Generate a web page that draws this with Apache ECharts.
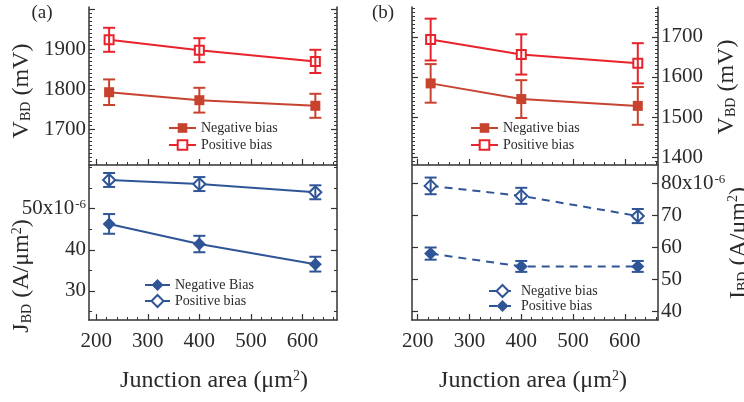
<!DOCTYPE html>
<html>
<head>
<meta charset="utf-8">
<script src="https://cdn.jsdelivr.net/npm/echarts@6/dist/echarts.min.js"></script>
<style>
html, body { margin: 0; padding: 0; background: #fff; }
#chart { width: 744px; height: 402px; }
</style>
</head>
<body>
<div id="chart"></div>
<script>
// junction areas (um^2)
var areas = [225, 400, 625];

// (a) breakdown voltage, mV
var vNegA = [1792, 1772, 1758];
var vNegAErr = [32, 31, 30];
var vPosA = [1923, 1897, 1869];
var vPosAErr = [30, 30, 29];

// (a) breakdown current density, x1e-6 A/um^2
var jNegA = [46.3, 41.4, 36.5];
var jNegAErr = [2.4, 2.0, 1.8];
var jPosA = [57.0, 56.0, 54.0];
var jPosAErr = [1.7, 1.7, 1.7];

// (b) breakdown voltage, mV
var vNegB = [1584, 1545, 1528];
var vNegBErr = [48, 47, 47];
var vPosB = [1693, 1656, 1634];
var vPosBErr = [52, 50, 50];

// (b) breakdown current, x1e-6 A/um^2
var iNegB = [79.2, 76.1, 69.8];
var iNegBErr = [2.6, 2.5, 2.2];
var iPosB = [58.1, 54.1, 54.1];
var iPosBErr = [1.9, 1.7, 1.7];

// tick labels
var xTickLabels = [200, 300, 400, 500, 600];
var vTickLabelsA = [1700, 1800, 1900];
var jTickLabelsA = [30, 40, 50];
var vTickLabelsB = [1400, 1500, 1600, 1700];
var iTickLabelsB = [40, 50, 60, 70, 80];

var redNeg = '#c8432f';
var redPos = '#e8232b';
var blue = '#2f5597';
var axisColor = '#333';
var textColor = '#2a2a2a';
var fam = 'Liberation Serif';

function steps(min, max, step) {
    var out = [];
    for (var v = Math.ceil(min / step) * step; v <= max; v += step) out.push(v);
    return out;
}

var grids = [
    {left: 89, top: 7, width: 248, height: 158},
    {left: 89, top: 166, width: 248, height: 154},
    {left: 412, top: 7, width: 246, height: 158},
    {left: 412, top: 166, width: 246, height: 154}
];
var xRanges = [[186, 667], [186, 667], [189, 664], [189, 664]];
var yRanges = [[1610, 2005], [22.9, 60.4], [1381, 1774], [37.4, 85.4]];
var yLabels = [vTickLabelsA, jTickLabelsA, vTickLabelsB, iTickLabelsB];
var yMajor = [steps(1610, 2005, 100), jTickLabelsA, vTickLabelsB, iTickLabelsB];
var yMinor = [steps(1610, 2005, 10), steps(22.9, 60.4, 5), steps(1381, 1774, 10), []];
var labelSide = ['left', 'left', 'right', 'right'];

var supRich = {
    s: {fontSize: 13, fontFamily: fam, color: textColor, verticalAlign: 'top', lineHeight: 10, padding: [0, 0, 0, 1]}
};

function yFormatter(g) {
    return function (v) {
        if (g === 1 && v === 50) return '50x10{s|-6}';
        if (g === 3 && v === 80) return '80x10{s|-6}';
        return String(v);
    };
}

var xAxes = [], yAxes = [];
var allGrids = grids.concat(grids);
for (var g = 0; g < 4; g++) {
    xAxes.push({
        type: 'value', gridIndex: g, min: xRanges[g][0], max: xRanges[g][1], position: 'bottom',
        axisLine: {show: true, onZero: false, lineStyle: {color: axisColor, width: 1.5}},
        axisTick: {show: true, inside: true, length: 6, customValues: xTickLabels, lineStyle: {color: axisColor, width: 1.2}},
        axisLabel: {show: g % 2 === 1, customValues: xTickLabels, margin: 11, fontFamily: fam, fontSize: 21, color: textColor},
        splitLine: {show: false}
    });
}
for (var g = 0; g < 4; g++) {
    xAxes.push({
        type: 'value', gridIndex: g + 4, min: xRanges[g][0], max: xRanges[g][1], position: 'bottom',
        axisLine: {show: false, onZero: false},
        axisTick: {show: true, inside: true, length: 3, customValues: steps(xRanges[g][0], xRanges[g][1], 20), lineStyle: {color: axisColor, width: 1}},
        axisLabel: {show: false},
        splitLine: {show: false}
    });
}
for (var g = 0; g < 4; g++) {
    ['left', 'right'].forEach(function (side) {
        yAxes.push({
            type: 'value', gridIndex: g, min: yRanges[g][0], max: yRanges[g][1], position: side,
            axisLine: {show: true, onZero: false, lineStyle: {color: axisColor, width: 1.5}},
            axisTick: {show: true, inside: true, length: 6, customValues: yMajor[g], lineStyle: {color: axisColor, width: 1.2}},
            axisLabel: {
                show: side === labelSide[g], customValues: yLabels[g], margin: 3,
                fontFamily: fam, fontSize: 21, color: textColor,
                formatter: yFormatter(g), rich: supRich
            },
            splitLine: {show: false}
        });
    });
}
for (var g = 0; g < 4; g++) {
    ['left', 'right'].forEach(function (side) {
        yAxes.push({
            type: 'value', gridIndex: g + 4, min: yRanges[g][0], max: yRanges[g][1], position: side,
            axisLine: {show: false, onZero: false},
            axisTick: {show: yMinor[g].length > 0, inside: true, length: 3, customValues: yMinor[g], lineStyle: {color: axisColor, width: 1}},
            axisLabel: {show: false},
            splitLine: {show: false}
        });
    });
}

function pts(vals) {
    return areas.map(function (x, i) { return [x, vals[i]]; });
}
function bars(vals, errs) {
    return areas.map(function (x, i) { return [x, vals[i] - errs[i], vals[i] + errs[i]]; });
}
function errRender(color) {
    return function (params, api) {
        var x = api.value(0);
        var top = api.coord([x, api.value(2)]);
        var bot = api.coord([x, api.value(1)]);
        var w = 6;
        var st = {stroke: color, lineWidth: 2};
        return {
            type: 'group',
            children: [
                {type: 'line', shape: {x1: top[0], y1: top[1], x2: bot[0], y2: bot[1]}, style: st},
                {type: 'line', shape: {x1: top[0] - w, y1: top[1], x2: top[0] + w, y2: top[1]}, style: st},
                {type: 'line', shape: {x1: bot[0] - w, y1: bot[1], x2: bot[0] + w, y2: bot[1]}, style: st}
            ]
        };
    };
}

var series = [];
function addSet(name, g, vals, errs, color, symbol, size, dashed) {
    series.push({
        name: name, type: 'line', xAxisIndex: g, yAxisIndex: 2 * g,
        data: pts(vals), symbol: symbol, symbolSize: size, showSymbol: true, z: 2,
        lineStyle: {width: 2, color: color, type: dashed ? [8, 6] : 'solid'},
        itemStyle: {color: color, borderWidth: 1.5}
    });
    series.push({
        type: 'custom', xAxisIndex: g, yAxisIndex: 2 * g, z: 3,
        renderItem: errRender(color), data: bars(vals, errs), encode: {x: 0, y: [1, 2]}
    });
}
addSet('Negative bias#a', 0, vNegA, vNegAErr, redNeg, 'rect', 10, false);
addSet('Positive bias#a', 0, vPosA, vPosAErr, redPos, 'emptyRect', 9, false);
addSet('Negative Bias#c', 1, jNegA, jNegAErr, blue, 'diamond', 13, false);
addSet('Positive bias#c', 1, jPosA, jPosAErr, blue, 'emptyDiamond', 12, false);
addSet('Negative bias#b', 2, vNegB, vNegBErr, redNeg, 'rect', 10, false);
addSet('Positive bias#b', 2, vPosB, vPosBErr, redPos, 'emptyRect', 9, false);
addSet('Negative bias#d', 3, iNegB, iNegBErr, blue, 'emptyDiamond', 12, true);
addSet('Positive bias#d', 3, iPosB, iPosBErr, blue, 'diamond', 13, true);

function legendAt(names, left, top, w, h, gap) {
    return {
        data: names, left: left, top: top, orient: 'vertical', padding: 0,
        itemWidth: w, itemHeight: h, itemGap: gap, selectedMode: false,
        textStyle: {fontFamily: fam, fontSize: 14, color: textColor, padding: [0, 0, 0, 0]},
        formatter: function (n) { return n.split('#')[0]; }
    };
}

var nameStyle = {
    fontFamily: fam, fontSize: 24, fill: textColor, align: 'center', verticalAlign: 'middle',
    rich: {
        sub: {fontFamily: fam, fontSize: 14, fill: textColor, verticalAlign: 'bottom', lineHeight: 12},
        sup: {fontFamily: fam, fontSize: 14, fill: textColor, verticalAlign: 'top', lineHeight: 12}
    }
};
function nameText(text, x, y, rot) {
    return {
        type: 'text', x: x, y: y, rotation: rot,
        style: Object.assign({}, nameStyle, {text: text})
    };
}

var myChart = echarts.init(document.getElementById('chart'));
option = {
    animation: false,
    backgroundColor: '#fff',
    grid: allGrids.map(function (r) {
        return {left: r.left, top: r.top, width: r.width, height: r.height, outerBoundsMode: 'none'};
    }),
    xAxis: xAxes,
    yAxis: yAxes,
    legend: [
        legendAt(['Negative bias#a', 'Positive bias#a'], 168, 121, 27, 12, 3),
        legendAt(['Negative Bias#c', 'Positive bias#c'], 144, 278, 25, 15, 2),
        legendAt(['Negative bias#b', 'Positive bias#b'], 470, 121, 27, 12, 3),
        legendAt(['Negative bias#d', 'Positive bias#d'], 488, 284, 27, 15, 1)
    ],
    graphic: [
        {type: 'text', x: 42, y: 13, style: {text: '(a)', fontFamily: fam, fontSize: 19, fill: textColor, align: 'center', verticalAlign: 'middle'}},
        {type: 'text', x: 383, y: 13, style: {text: '(b)', fontFamily: fam, fontSize: 19, fill: textColor, align: 'center', verticalAlign: 'middle'}},
        nameText('V{sub|BD} (mV)', 21.5, 91, Math.PI / 2),
        nameText('J{sub|BD} (A/μm{sup|2})', 22, 276, Math.PI / 2),
        nameText('V{sub|BD} (mV)', 726.5, 87, Math.PI / 2),
        nameText('I{sub|BD} (A/μm{sup|2})', 738.5, 243, Math.PI / 2),
        nameText('Junction area (μm{sup|2})', 214, 381, 0),
        nameText('Junction area (μm{sup|2})', 533, 381, 0)
    ],
    series: series
};
myChart.setOption(option);
</script>
</body>
</html>
